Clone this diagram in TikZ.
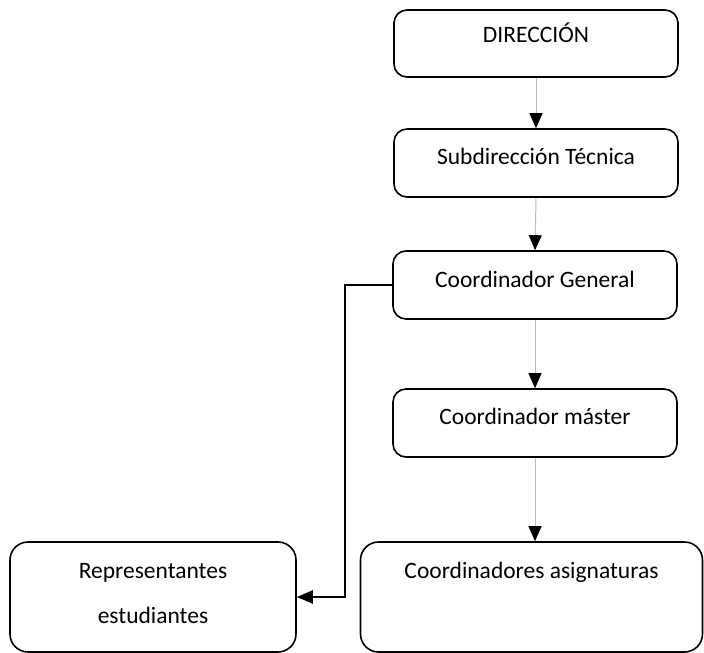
\documentclass[tikz,border=0pt]{standalone}
\usepackage{fontspec}
\setmainfont{Carlito}
\usetikzlibrary{arrows.meta,calc}
\tikzset{
  box/.style={draw=black, line width=1.6pt, rounded corners=13pt, inner sep=0pt},
  bigbox/.style={box, rounded corners=18pt},
  txt/.style={font=\fontsize{23.5}{45}\selectfont, inner sep=0pt, anchor=base, align=center},
  thin/.style={draw={rgb,255:red,190;green,190;blue,190}, line width=1pt, -{Triangle[width=13pt,length=15pt,color=black]}},
  thick/.style={draw=black, line width=2pt, -{Triangle[width=13pt,length=16pt]}}
}
\begin{document}
\begin{tikzpicture}[x=1pt,y=-1pt]
\useasboundingbox (0,0) rectangle (704,653);
\node[box, minimum width=284pt, minimum height=67pt] (b1) at (536,43.5) {};
\node[box, minimum width=284pt, minimum height=68pt] (b2) at (536,163) {};
\node[box, minimum width=284pt, minimum height=68pt] (b3) at (535,285) {};
\node[box, minimum width=284pt, minimum height=68pt] (b4) at (535,423) {};
\node[bigbox, minimum width=342pt, minimum height=110pt] (b5) at (531.5,597) {};
\node[bigbox, minimum width=286pt, minimum height=110pt] (b6) at (153,597) {};
\node[txt] (t1) at ($(b1.north)+(0,33)$) {DIRECCIÓN};
\node[txt] (t2) at ($(b2.north)+(0,36)$) {Subdirección Técnica};
\node[txt] (t3) at ($(b3.north)+(0,37)$) {Coordinador General};
\node[txt] (t4) at ($(b4.north)+(0,36)$) {Coordinador máster};
\node[txt] (t5) at ($(b5.north)+(0,37)$) {Coordinadores asignaturas};
\node[txt] (t6) at ($(b6.north)+(0,82)$) {Representantes\\estudiantes};
\coordinate (elbow) at (345,285);
\draw[thin] (b1.south) -- (b2.north);
\draw[thin] (b2.south) -- (b3.north);
\draw[thin] (b3.south) -- (b4.north);
\draw[thin] (b4.south) -- (b4.south |- b5.north);
\draw[thick] (b3.west) -- (elbow) |- (b6.east);
\end{tikzpicture}
\end{document}
